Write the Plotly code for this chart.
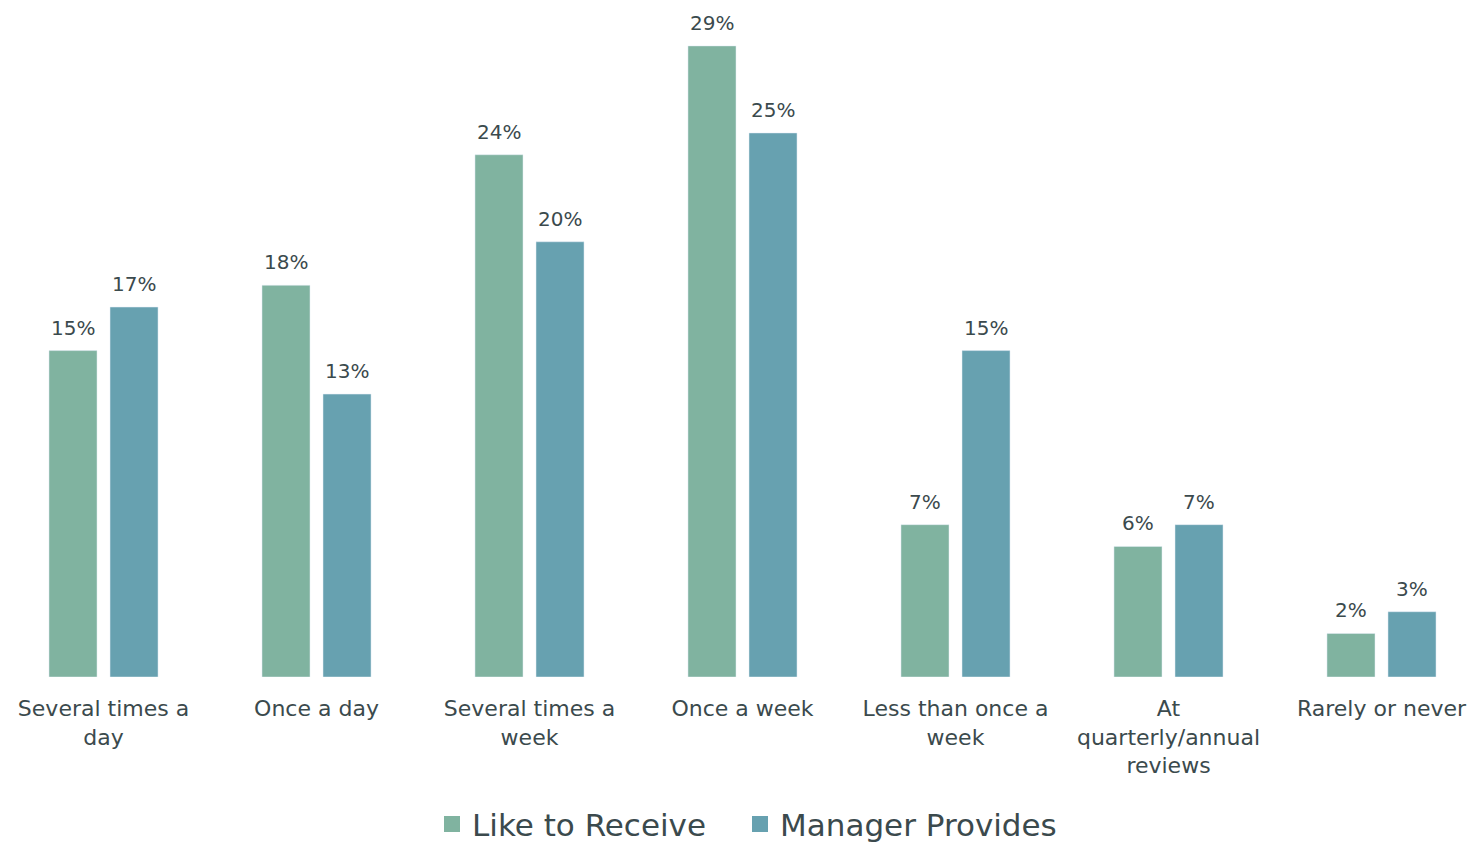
import plotly.graph_objects as go

categories = [
    "Several times a<br>day",
    "Once a day",
    "Several times a<br>week",
    "Once a week",
    "Less than once a<br>week",
    "At<br>quarterly/annual<br>reviews",
    "Rarely or never",
]
series_names = ["Like to Receive", "Manager Provides"]
like_to_receive = [15, 18, 24, 29, 7, 6, 2]
manager_provides = [17, 13, 20, 25, 15, 7, 3]

GREEN = "#80B3A0"
BLUE = "#67A1B0"
TEXT = "#3B4A4D"
FONT = "DejaVu Sans"

BARGAP = 0.427
BARGROUPGAP = 0.213
# horizontal offset of each bar centre from its category centre (axis units)
OFFSET = (1 - BARGAP) / 4

x = list(range(len(categories)))

fig = go.Figure()
for name, vals, col, leg in [(series_names[0], like_to_receive, GREEN, "legend"),
                             (series_names[1], manager_provides, BLUE, "legend2")]:
    fig.add_trace(go.Bar(name=name, x=x, y=vals, marker_color=col,
                         showlegend=False, hoverinfo="skip"))
    # legend entry with a larger square swatch
    fig.add_trace(go.Scatter(name=name, x=[None], y=[None], mode="markers",
                             marker=dict(symbol="square", size=20, color=col),
                             showlegend=True, legend=leg))

# value labels above each bar
for sign, vals in [(-1, like_to_receive), (1, manager_provides)]:
    for xi, v in zip(x, vals):
        fig.add_annotation(x=xi + sign * OFFSET, y=v, text=f"{v}%",
                           showarrow=False, yanchor="bottom", yshift=9,
                           font=dict(size=20, color=TEXT, family=FONT))

legend_style = dict(
    orientation="h", xanchor="left",
    yref="container", y=0.021, yanchor="middle",
    font=dict(size=31, color=TEXT, family=FONT), itemwidth=30,
)

fig.update_layout(
    width=1475, height=842,
    barmode="group", bargap=BARGAP, bargroupgap=BARGROUPGAP,
    plot_bgcolor="white", paper_bgcolor="white",
    margin=dict(l=0, r=0, t=0, b=165, autoexpand=False),
    font=dict(family=FONT, color=TEXT),
    legend=dict(x=432 / 1475, **legend_style),
    legend2=dict(x=740 / 1475, **legend_style),
    xaxis=dict(
        tickmode="array", tickvals=x, ticktext=categories,
        range=[-0.486, 6.439], showgrid=False, showline=False, zeroline=False,
        tickfont=dict(size=22, color=TEXT, family=FONT), ticks="",
        ticklabelstandoff=16, automargin=False,
    ),
    yaxis=dict(range=[0, 31.11], visible=False, automargin=False),
)

fig.write_html("out.html")
